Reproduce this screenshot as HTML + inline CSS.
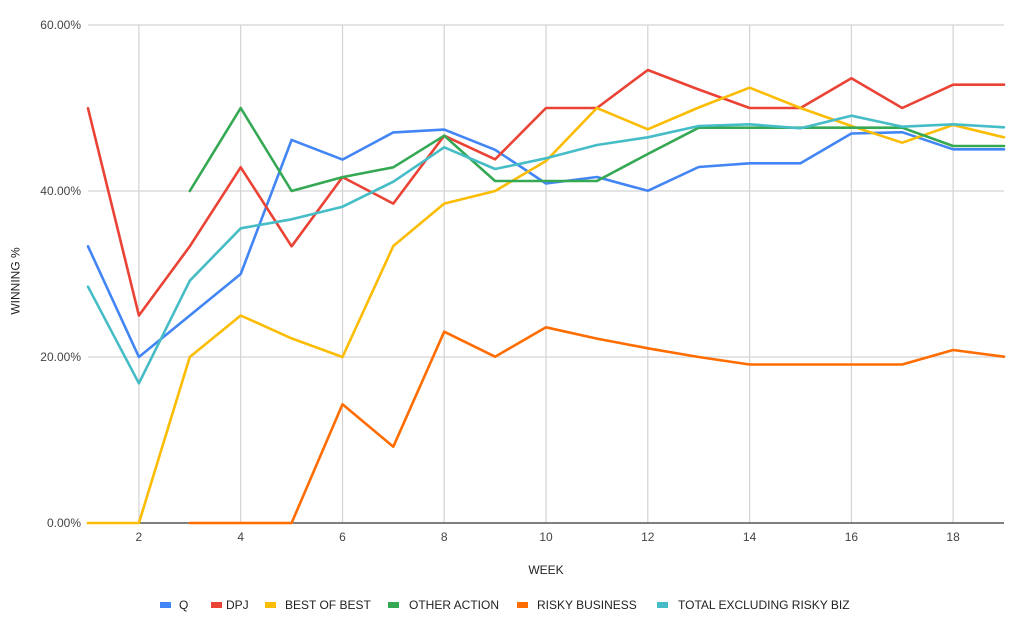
<!DOCTYPE html>
<html>
<head>
<meta charset="utf-8">
<style>
  html,body{margin:0;padding:0;background:#fff;}
  svg{display:block;}
  text{font-family:"Liberation Sans",Arial,sans-serif;}
</style>
</head>
<body>
<svg width="1024" height="637" viewBox="0 0 1024 637" xmlns="http://www.w3.org/2000/svg">
  <rect x="0" y="0" width="1024" height="637" fill="#ffffff"/>
  <!-- horizontal gridlines -->
  <g stroke="#d3d3d3" stroke-width="1.2">
    <line x1="88" y1="25" x2="1004" y2="25"/>
    <line x1="88" y1="191" x2="1004" y2="191"/>
    <line x1="88" y1="357" x2="1004" y2="357"/>
  </g>
  <!-- vertical gridlines -->
  <g stroke="#d3d3d3" stroke-width="1.2">
    <line x1="138.9" y1="25" x2="138.9" y2="523"/>
    <line x1="240.7" y1="25" x2="240.7" y2="523"/>
    <line x1="342.5" y1="25" x2="342.5" y2="523"/>
    <line x1="444.2" y1="25" x2="444.2" y2="523"/>
    <line x1="546" y1="25" x2="546" y2="523"/>
    <line x1="647.8" y1="25" x2="647.8" y2="523"/>
    <line x1="749.6" y1="25" x2="749.6" y2="523"/>
    <line x1="851.4" y1="25" x2="851.4" y2="523"/>
    <line x1="953.1" y1="25" x2="953.1" y2="523"/>
  </g>
  <!-- baseline -->
  <line x1="88" y1="523" x2="1004" y2="523" stroke="#555" stroke-width="1.4"/>

  <!-- y tick labels -->
  <g fill="#444" font-size="12" text-anchor="end">
    <text x="81" y="29">60.00%</text>
    <text x="81" y="195">40.00%</text>
    <text x="81" y="361">20.00%</text>
    <text x="81" y="527">0.00%</text>
  </g>
  <!-- x tick labels -->
  <g fill="#444" font-size="12" text-anchor="middle">
    <text x="138.9" y="541">2</text>
    <text x="240.7" y="541">4</text>
    <text x="342.5" y="541">6</text>
    <text x="444.2" y="541">8</text>
    <text x="546" y="541">10</text>
    <text x="647.8" y="541">12</text>
    <text x="749.6" y="541">14</text>
    <text x="851.4" y="541">16</text>
    <text x="953.1" y="541">18</text>
  </g>
  <!-- axis titles -->
  <text x="546" y="574" fill="#222" font-size="12" text-anchor="middle">WEEK</text>
  <text x="0" y="0" fill="#222" font-size="12" text-anchor="middle" transform="translate(19.5,281) rotate(-90)">WINNING %</text>

  <!-- series -->
  <g fill="none" stroke-width="2.6" stroke-linejoin="round" stroke-linecap="round">
    <!-- Q -->
    <polyline stroke="#4285f4" points="88,246.3 138.9,357 189.8,315.5 240.7,274 291.6,139.9 342.5,159.6 393.3,132.4 444.2,129.6 495.1,149.8 546,183.5 596.9,177 647.8,190.8 698.7,167 749.6,163.3 800.5,163.3 851.4,133.5 902.2,132.2 953.1,149.3 1004,149.3"/>
    <!-- DPJ -->
    <polyline stroke="#ea4335" points="88,108.3 138.9,315.5 189.8,246.3 240.7,167.3 291.6,246.3 342.5,177.1 393.3,203.6 444.2,135.7 495.1,159.3 546,108 596.9,108 647.8,70 698.7,89.5 749.6,108 800.5,108 851.4,78.3 902.2,108 953.1,84.7 1004,84.7"/>
    <!-- BEST OF BEST -->
    <polyline stroke="#fbbc04" points="88,523 138.9,523 189.8,357 240.7,315.5 291.6,338.4 342.5,357 393.3,246 444.2,203.6 495.1,191 546,161 596.9,108 647.8,129.3 698.7,107.5 749.6,87.7 800.5,108 851.4,126 902.2,142.7 953.1,125 1004,137.3"/>
    <!-- OTHER ACTION -->
    <polyline stroke="#34a853" points="189.8,191 240.7,108 291.6,191 342.5,177.1 393.3,167.3 444.2,135.7 495.1,181 546,181 596.9,181 647.8,154 698.7,127.7 749.6,127.7 800.5,127.7 851.4,127.7 902.2,127.7 953.1,146 1004,146"/>
    <!-- RISKY BUSINESS -->
    <polyline stroke="#ff6d01" points="189.8,523 240.7,523 291.6,523 342.5,404.3 393.3,446.7 444.2,331.7 495.1,356.7 546,327.3 596.9,338.6 647.8,348.3 698.7,357 749.6,364.5 800.5,364.5 851.4,364.5 902.2,364.5 953.1,350 1004,356.7"/>
    <!-- TOTAL EXCLUDING RISKY BIZ -->
    <polyline stroke="#46bdc6" points="88,286.7 138.9,383.3 189.8,280.7 240.7,228.3 291.6,219.3 342.5,206.7 393.3,181.7 444.2,147.3 495.1,169 546,158.3 596.9,145 647.8,137.3 698.7,126 749.6,124.3 800.5,128.3 851.4,115.7 902.2,126.7 953.1,124.3 1004,127.3"/>
  </g>

  <!-- legend -->
  <g font-size="12" fill="#222">
    <rect x="160" y="602" width="11" height="6" fill="#4285f4"/>
    <text x="179" y="609">Q</text>
    <rect x="211" y="602" width="11" height="6" fill="#ea4335"/>
    <text x="226" y="609">DPJ</text>
    <rect x="265" y="602" width="11" height="6" fill="#fbbc04"/>
    <text x="285" y="609">BEST OF BEST</text>
    <rect x="388" y="602" width="11" height="6" fill="#34a853"/>
    <text x="409" y="609">OTHER ACTION</text>
    <rect x="517" y="602" width="11" height="6" fill="#ff6d01"/>
    <text x="537" y="609">RISKY BUSINESS</text>
    <rect x="657" y="602" width="11" height="6" fill="#46bdc6"/>
    <text x="678" y="609">TOTAL EXCLUDING RISKY BIZ</text>
  </g>
</svg>
</body>
</html>
